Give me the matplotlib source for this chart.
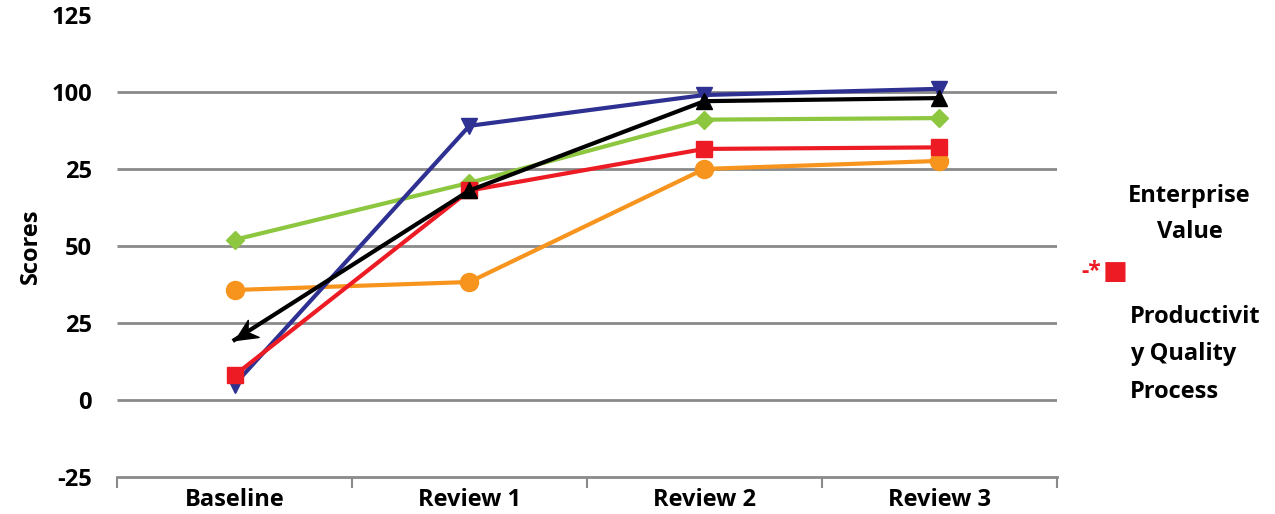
"""Scores by review stage, five series with markers"""
import numpy as np
import matplotlib.pyplot as plt
from matplotlib.path import Path
from matplotlib.ticker import FixedLocator

stages = ['Baseline', 'Review 1', 'Review 2', 'Review 3']
blue_scores = [5, 89, 99, 101]
black_scores = [19.5, 68, 97, 98]
green_scores = [52, 70.5, 91, 91.5]
red_scores = [8, 68, 81.5, 82]
orange_scores = [35.7, 38.3, 75, 77.6]

ytick_values = [-25, 0, 25, 50, 75, 100, 125]
ytick_labels = ['-25', '0', '25', '50', '25', '100', '125']
grid_values = [0, 25, 50, 75, 100]

GRID = '#8a8a8a'
FONT = 'Open Sans'

fig = plt.figure(figsize=(12.75, 5.14), dpi=100)
ax = fig.add_axes([0.0918, 0.072, 0.737, 0.899])

x = list(range(len(stages)))

ax.set_xlim(-0.5, 3.5)
ax.set_ylim(-25, 125)

# gridlines behind the series
ax.hlines(grid_values, -0.5, 3.5, color=GRID, linewidth=2, zorder=1)

ax.plot(x, orange_scores, color='#F7941D', linewidth=3, marker='o',
        markersize=13, zorder=3)
ax.plot(x, green_scores, color='#8DC63F', linewidth=3, marker='D',
        markersize=9, zorder=3)
ax.plot(x, blue_scores, color='#2E3192', linewidth=3, marker='v',
        markersize=12, zorder=3)
ax.plot(x, red_scores, color='#ED1C24', linewidth=3, marker='s',
        markersize=11, zorder=4)
ax.plot(x, black_scores, color='black', linewidth=3, marker='^',
        markersize=12, markevery=[1, 2, 3], zorder=5)

# arrowhead on the baseline end of the black series, turned along the segment
p0, p1 = ax.transData.transform([(x[0], black_scores[0]), (x[1], black_scores[1])])
heading = np.arctan2(p0[1] - p1[1], p0[0] - p1[0])
head = np.array([(0, 0), (-1.6, 0.75), (-1.1, 0), (-1.6, -0.75), (0, 0)])
rot = np.array([[np.cos(heading), -np.sin(heading)],
                [np.sin(heading), np.cos(heading)]])
head = head @ rot.T
arrow_marker = Path(head, [Path.MOVETO] + [Path.LINETO] * 3 + [Path.CLOSEPOLY])
ax.plot(x[0], black_scores[0], linestyle='none', color='black',
        marker=arrow_marker, markersize=34, zorder=5)

for side in ['top', 'right', 'left']:
    ax.spines[side].set_visible(False)
ax.spines['bottom'].set_color(GRID)
ax.spines['bottom'].set_linewidth(2)

ax.set_xticks(x)
ax.set_xticklabels(stages, fontfamily=FONT, fontweight='bold', fontsize=17)
ax.xaxis.set_minor_locator(FixedLocator([-0.5, 0.5, 1.5, 2.5, 3.5]))
ax.tick_params(axis='x', which='major', length=0, pad=8)
ax.tick_params(axis='x', which='minor', length=8, width=1.5, color=GRID,
               direction='out')

ax.set_yticks(ytick_values)
ax.set_yticklabels(ytick_labels, fontfamily=FONT, fontweight='bold',
                   fontsize=17)
ax.tick_params(axis='y', length=0, pad=18)

ax.set_ylabel('Scores', fontfamily=FONT, fontweight='bold', fontsize=17,
              labelpad=6)

# legend text on the right
fig.text(0.933, 0.584, 'Enterprise\nValue', ha='center', va='center',
         fontfamily=FONT, fontweight='bold', fontsize=17,
         linespacing=1.65)
fig.text(0.848, 0.471, '-*', ha='left', va='center', color='#ED1C24',
         fontfamily=FONT, fontweight='bold', fontsize=16.5)
fig.text(0.8645, 0.471, '\u25A0', ha='left', va='center', color='#ED1C24',
         fontfamily='DejaVu Sans', fontsize=19)
fig.text(0.886, 0.311, 'Productivit\ny Quality\nProcess', ha='left',
         va='center', fontfamily=FONT, fontweight='bold', fontsize=17,
         linespacing=1.75)

fig.savefig('out.png', dpi=100)
